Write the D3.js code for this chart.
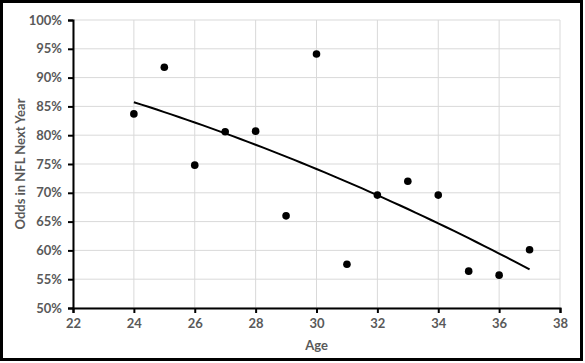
<!DOCTYPE html>
<html>
<head>
<meta charset="utf-8">
<script src="https://cdn.jsdelivr.net/npm/d3@7"></script>
<style>
  body { margin: 0; background: #fff; }
  text { font-family: Lato, "Open Sans", sans-serif; font-weight: bold; fill: #595959; }
</style>
</head>
<body>
<div id="chart"></div>
<script>
var ages = [24, 25, 26, 27, 28, 29, 30, 31, 32, 33, 34, 35, 36, 37];
var odds = [0.837, 0.918, 0.748, 0.806, 0.807, 0.660, 0.941, 0.576, 0.696, 0.720, 0.696, 0.564, 0.557, 0.601];
var xTicks = [22, 24, 26, 28, 30, 32, 34, 36, 38];
var yTicks = [0.5, 0.55, 0.6, 0.65, 0.7, 0.75, 0.8, 0.85, 0.9, 0.95, 1.0];

var width = 585, height = 363,
    margin = {top: 20, right: 25, bottom: 55, left: 73};

var x = d3.scaleLinear().domain([22, 38]).range([margin.left, width - margin.right]);
var y = d3.scaleLinear().domain([0.5, 1.0]).range([height - margin.bottom, margin.top]);

var svg = d3.select("#chart").append("svg")
    .attr("width", width)
    .attr("height", height);

// chart border
svg.append("rect")
    .attr("x", 1.5).attr("y", 1.5)
    .attr("width", 580).attr("height", 358)
    .attr("fill", "none").attr("stroke", "#000").attr("stroke-width", 3);

// grid
svg.append("g").selectAll("line").data(yTicks).enter().append("line")
    .attr("x1", x(22)).attr("x2", x(38))
    .attr("y1", function(d) { return y(d); }).attr("y2", function(d) { return y(d); })
    .attr("stroke", "#d9d9d9").attr("stroke-width", 1);
svg.append("g").selectAll("line").data(xTicks).enter().append("line")
    .attr("y1", y(0.5)).attr("y2", y(1.0))
    .attr("x1", function(d) { return x(d); }).attr("x2", function(d) { return x(d); })
    .attr("stroke", "#d9d9d9").attr("stroke-width", 1);

// axes
var xAxis = svg.append("g")
    .attr("transform", "translate(0," + y(0.5) + ")")
    .call(d3.axisBottom(x).tickValues(xTicks).tickSize(5).tickPadding(6));
var yAxis = svg.append("g")
    .attr("transform", "translate(" + x(22) + ",0)")
    .call(d3.axisLeft(y).tickValues(yTicks).tickSize(5).tickPadding(6).tickFormat(d3.format(".0%")));

[xAxis, yAxis].forEach(function(a) {
  a.select(".domain").attr("stroke", "#000").attr("stroke-width", 2);
  a.selectAll(".tick line").attr("stroke", "#000").attr("stroke-width", 2);
  a.selectAll("text").style("font-size", "13px").attr("fill", "#595959");
});

// trendline: least squares polynomial (order 2)
function polyFit(xs, ys) {
  var n = xs.length, s = [0, 0, 0, 0, 0], t = [0, 0, 0];
  xs.forEach(function(xi, i) {
    for (var k = 0; k < 5; k++) s[k] += Math.pow(xi, k);
    for (var k2 = 0; k2 < 3; k2++) t[k2] += ys[i] * Math.pow(xi, k2);
  });
  var A = [[s[0], s[1], s[2], t[0]], [s[1], s[2], s[3], t[1]], [s[2], s[3], s[4], t[2]]];
  for (var i = 0; i < 3; i++) {
    for (var j = i + 1; j < 3; j++) {
      var f = A[j][i] / A[i][i];
      for (var k = i; k < 4; k++) A[j][k] -= f * A[i][k];
    }
  }
  var c = [0, 0, 0];
  for (var i2 = 2; i2 >= 0; i2--) {
    var v = A[i2][3];
    for (var k3 = i2 + 1; k3 < 3; k3++) v -= A[i2][k3] * c[k3];
    c[i2] = v / A[i2][i2];
  }
  return function(xv) { return c[0] + c[1] * xv + c[2] * xv * xv; };
}
var fit = polyFit(ages, odds);
var trend = d3.range(24, 37.01, 0.25).map(function(a) { return [a, fit(a)]; });

svg.append("path")
    .datum(trend)
    .attr("fill", "none")
    .attr("stroke", "#000")
    .attr("stroke-width", 2)
    .attr("d", d3.line().x(function(d) { return x(d[0]); }).y(function(d) { return y(d[1]); }));

// points
svg.append("g").selectAll("circle").data(ages).enter().append("circle")
    .attr("cx", function(d) { return x(d); })
    .attr("cy", function(d, i) { return y(odds[i]); })
    .attr("r", 3.8)
    .attr("fill", "#000");

// axis titles
svg.append("text")
    .attr("x", (x(22) + x(38)) / 2)
    .attr("y", 350)
    .attr("text-anchor", "middle")
    .style("font-size", "13px")
    .text("Age");
svg.append("text")
    .attr("transform", "translate(25," + (y(0.75)) + ") rotate(-90)")
    .attr("text-anchor", "middle")
    .style("font-size", "13px")
    .text("Odds in NFL Next Year");
</script>
</body>
</html>
